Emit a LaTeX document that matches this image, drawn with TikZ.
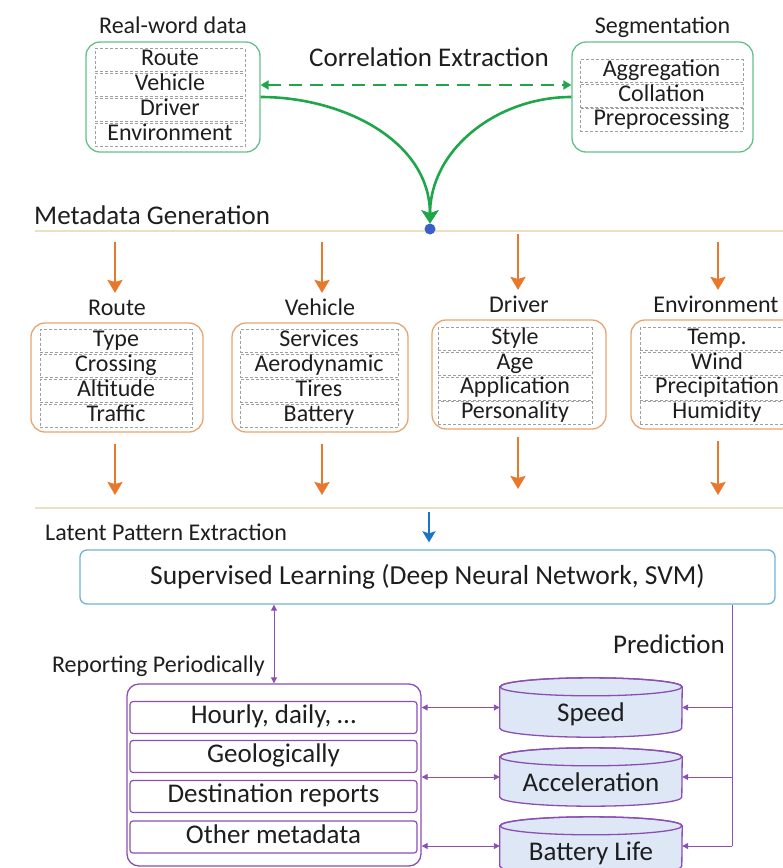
\documentclass[tikz,border=0pt]{standalone}
\usepackage{fontspec}
\setmainfont{Carlito}
\usepackage{xcolor}
\usetikzlibrary{arrows.meta,positioning,calc,backgrounds}
\definecolor{ink}{HTML}{1E1E1E}
\definecolor{leaf}{HTML}{1FA64A}
\definecolor{leaflite}{HTML}{62C088}
\definecolor{amber}{HTML}{E8782C}
\definecolor{amberlite}{HTML}{E9A46E}
\definecolor{sand}{HTML}{EEDFC2}
\definecolor{sky}{HTML}{1D74C4}
\definecolor{skylite}{HTML}{6FB3D2}
\definecolor{plum}{HTML}{8B4FB4}
\definecolor{plumfill}{HTML}{DDE7F5}
\definecolor{hubdot}{HTML}{3A5FC8}
\newcommand\fsz[1]{\fontsize{#1}{#1}\selectfont}

\begin{document}
\begin{tikzpicture}[x=1pt, y=1pt,
  heading/.style={font=\fsz{24}, text=ink, inner sep=2pt, text height=15pt, text depth=4pt},
  item/.style={draw=gray!75, dash pattern=on 3pt off 2pt, line width=0.8pt,
               inner sep=0pt, minimum height=23pt, font=\fsz{24}, text=ink,
               text height=15pt, text depth=4pt},
  gbox/.style={draw=leaflite, line width=1.3pt, rounded corners=14pt, minimum height=110pt},
  mbox/.style={draw=amberlite, line width=1.3pt, rounded corners=14pt, minimum height=109pt},
  rrow/.style={draw=plum, line width=1.2pt, rounded corners=3pt, minimum width=287pt,
               minimum height=32pt, inner sep=0pt, font=\fsz{27}, text=ink,
               text height=17pt, text depth=5pt},
  db/.style={minimum width=182pt, inner sep=0pt, font=\fsz{27}, text=ink,
             text height=30pt, text depth=2pt},
  garr/.style={-{Stealth[length=13pt,width=17pt,inset=3pt]}, leaf, line width=2.6pt},
  gdash/.style={{Triangle[length=8pt,width=9pt]}-{Triangle[length=8pt,width=9pt]},
                leaf, line width=2.6pt, dash pattern=on 13pt off 8pt},
  oarr/.style={-{Stealth[length=13pt,width=15pt,inset=2pt]}, amber, line width=2.4pt},
  parr/.style={{Triangle[length=6pt,width=6pt]}-{Triangle[length=6pt,width=6pt]}, plum, line width=0.9pt},
  pto/.style={-{Triangle[length=6pt,width=6pt]}, plum, line width=0.9pt},
  sandrule/.style={sand, line width=1.6pt}
]
\useasboundingbox (0,0) rectangle (783,-868);

% source data and segmentation
\node[gbox, minimum width=174pt] (real) at (173,-97) {};
\node[heading, above=2pt of real] (realcap) {Real-word data};
\foreach \t [count=\i] in {Route,Vehicle,Driver,Environment}
  \node[item, minimum width=150pt] (src\i) at (170,{-60-25*(\i-1)}) {\t};

\node[gbox, minimum width=181pt] (seg) at (662.5,-97) {};
\node[heading, above=2pt of seg] (segcap) {Segmentation};
\foreach \t [count=\i] in {Aggregation,Collation,Preprocessing}
  \node[item, minimum width=163pt] (seg\i) at (661.5,{-71-24.5*(\i-1)}) {\t};

\node[font=\fsz{27}, text=ink, anchor=base, inner sep=0pt] (corr) at (429,-66.5) {Correlation Extraction};
\draw[gdash] ([yshift=12pt]real.east) -- ([yshift=12pt]seg.west);

% metadata generation
\node[font=\fsz{27}, text=ink, anchor=base west, inner sep=0pt] (metagen) at (34,-224) {Metadata Generation};
\draw[sandrule] (35,-231) -- (783,-231);

\node[circle, fill=hubdot, minimum size=11pt, inner sep=0pt] (hub) at (430,-229) {};
\draw[garr] (real.east) to[out=0, in=90] (hub.north);
\draw[garr] (seg.west) to[out=180, in=90] (hub.north);

\node[mbox, minimum width=172pt] (route) at (117,-377.5) {};
\node[mbox, minimum width=176pt] (vehicle) at (320,-377.5) {};
\node[mbox, minimum width=174pt] (driver) at (519,-374.5) {};
\node[mbox, minimum width=170pt] (env) at (716,-374.5) {};
\node[heading, above=1pt of route] (routecap) {Route};
\node[heading, above=1pt of vehicle] (vehiclecap) {Vehicle};
\node[heading, above=1pt of driver] (drivercap) {Driver};
\node[heading, above=1pt of env] (envcap) {Environment};

\foreach \t [count=\i] in {Type,Crossing,Altitude,Traffic}
  \node[item, minimum width=152pt] (route\i) at (116,{-341-25*(\i-1)}) {\t};
\foreach \t [count=\i] in {Services,Aerodynamic,Tires,Battery}
  \node[item, minimum width=158pt] (vehicle\i) at (319,{-341-25*(\i-1)}) {\t};
\foreach \t [count=\i] in {Style,Age,Application,Personality}
  \node[item, minimum width=154pt] (driver\i) at (515,{-339-24.7*(\i-1)}) {\t};
\foreach \t [count=\i] in {Temp.,Wind,Precipitation,Humidity}
  \node[item, minimum width=154pt] (env\i) at (717,{-339-24.7*(\i-1)}) {\t};

% orange feeds in and out of each group
\coordinate (rin) at (115,-242);   \coordinate (rout) at (115,-495);
\coordinate (vin) at (322,-242);   \coordinate (vout) at (322,-495);
\coordinate (din) at (518,-234);   \coordinate (dout) at (518,-489);
\coordinate (ein) at (718,-242);   \coordinate (eout) at (718,-495);
\draw[oarr, shorten >=5pt] (rin) -- (rin |- routecap.north);
\draw[oarr, shorten >=5pt] (vin) -- (vin |- vehiclecap.north);
\draw[oarr, shorten >=5pt] (din) -- (din |- drivercap.north);
\draw[oarr, shorten >=5pt] (ein) -- (ein |- envcap.north);
\draw[oarr, shorten <=11pt] (route.south -| rout) -- (rout);
\draw[oarr, shorten <=11pt] (vehicle.south -| vout) -- (vout);
\draw[oarr, shorten <=7pt] (driver.south -| dout) -- (dout);
\draw[oarr, shorten <=11pt] (env.south -| eout) -- (eout);

% latent pattern extraction
\draw[sandrule] (35,-508) -- (783,-508);
\node[font=\fsz{24}, text=ink, anchor=base west, inner sep=0pt] (latent) at (45,-540.5) {Latent Pattern Extraction};
\node[draw=skylite, line width=1.3pt, rounded corners=7pt, minimum width=695pt, minimum height=54pt,
      font=\fsz{27.5}, text=ink] (sup) at (427.5,-577) {Supervised Learning (Deep Neural Network, SVM)};
\coordinate (learnin) at (429,-512);
\draw[-{Stealth[length=11pt,width=13pt,inset=2pt]}, sky, line width=2.4pt, shorten >=7pt] (learnin) -- (learnin |- sup.north);

% periodic reports
\node[draw=plum, line width=1.3pt, rounded corners=12pt, minimum width=294pt, minimum height=182pt] (report) at (274,-775) {};
\node[rrow] (hourly) at (273.5,-717.5) {Hourly, daily, \dots};
\node[rrow] (geo) at (273.5,-756.5) {Geologically};
\node[rrow] (dest) at (273.5,-796.5) {Destination reports};
\node[rrow] (other) at (273.5,-837) {Other metadata};
\draw[parr] (sup.south -| report.north) -- (report.north);
\node[font=\fsz{24}, text=ink, anchor=base east, inner sep=0pt] (reportcap) at (265,-672.5) {Reporting Periodically};

% predicted quantities
\node[db, minimum height=59pt] (speed) at (591,-707.5) {Speed};
\node[db, minimum height=58pt] (accel) at (591,-777) {Acceleration};
\node[db, minimum height=58pt] (batt) at (591,-846) {Battery Life};
\begin{scope}[on background layer]
  \foreach \n in {speed,accel,batt}{
    \filldraw[draw=plum, fill=plumfill, line width=1.3pt]
      ([yshift=-9pt]\n.north west) -- ([yshift=9pt]\n.south west)
      arc[start angle=180, end angle=360, x radius=91pt, y radius=9pt]
      -- ([yshift=-9pt]\n.north east)
      arc[start angle=0, end angle=180, x radius=91pt, y radius=9pt] -- cycle;
    \draw[plum, line width=1.3pt] ([yshift=-9pt]\n.north) ellipse[x radius=91pt, y radius=9pt];
  }
\end{scope}
\draw[parr] (speed.west -| report.east) -- (speed.west);
\draw[parr] (accel.west -| report.east) -- (accel.west);
\draw[parr] (batt.west -| report.east) -- (batt.west);

\coordinate (tap) at (732,-846);
\draw[plum, line width=0.9pt] (sup.south -| tap) -- (tap);
\draw[pto] (speed.east -| tap) -- (speed.east);
\draw[pto] (accel.east -| tap) -- (accel.east);
\draw[pto] (tap) -- (batt.east);
\node[font=\fsz{27}, text=ink, anchor=base east, inner sep=0pt] (predcap) at (725,-653.5) {Prediction};
\end{tikzpicture}
\end{document}
